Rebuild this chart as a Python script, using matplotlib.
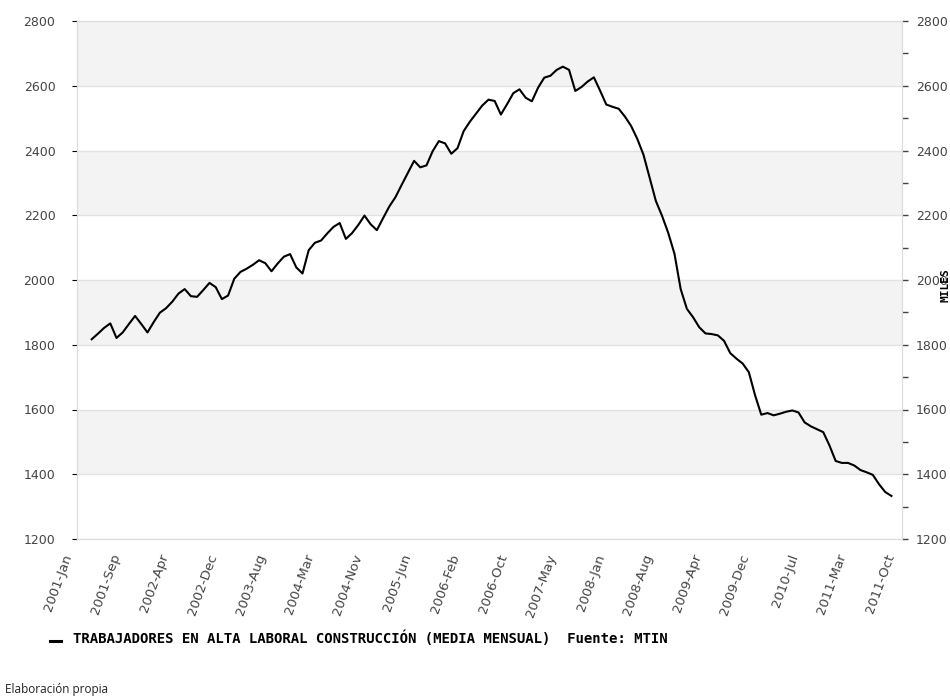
import numpy as np
import matplotlib
matplotlib.use('Agg')
from matplotlib import pyplot as plt
from matplotlib import transforms

# monthly values, 2001-Jan .. 2011-Oct (miles)
trabajadores = [
    1817, 1834, 1852, 1866, 1821, 1838, 1864, 1889, 1864, 1838,
    1870, 1899, 1913, 1933, 1958, 1972, 1950, 1948, 1969, 1991,
    1978, 1941, 1952, 2004, 2025, 2035, 2047, 2061, 2052, 2027,
    2051, 2072, 2080, 2039, 2020, 2092, 2115, 2122, 2144, 2164,
    2176, 2127, 2145, 2170, 2199, 2172, 2154, 2191, 2227, 2256,
    2294, 2331, 2368, 2348, 2354, 2398, 2429, 2422, 2390, 2407,
    2460, 2489, 2514, 2539, 2557, 2553, 2511, 2543, 2577, 2589,
    2563, 2552, 2594, 2625, 2631, 2649, 2659, 2649, 2584, 2596,
    2613, 2626, 2585, 2542, 2535, 2529, 2505, 2476, 2436, 2387,
    2316, 2244, 2198, 2145, 2081, 1972, 1911, 1885, 1854, 1835,
    1833, 1829, 1812, 1774, 1757, 1742, 1715, 1644, 1584, 1589,
    1582, 1587, 1593, 1597, 1591, 1560, 1548, 1539, 1530, 1489,
    1441, 1435, 1435, 1427, 1413, 1406, 1398, 1369, 1345, 1333,
]

tick_labels = ['2001-Jan', '2001-Sep', '2002-Apr', '2002-Dec', '2003-Aug',
               '2004-Mar', '2004-Nov', '2005-Jun', '2006-Feb', '2006-Oct',
               '2007-May', '2008-Jan', '2008-Aug', '2009-Apr', '2009-Dec',
               '2010-Jul', '2011-Mar', '2011-Oct']

y_ticks = [1200, 1400, 1600, 1800, 2000, 2200, 2400, 2600, 2800]

serie_label = u'TRABAJADORES EN ALTA LABORAL CONSTRUCCI\u00d3N (MEDIA MENSUAL)  Fuente: MTIN'
nota = u'Elaboraci\u00f3n propia'

fig = plt.figure(figsize=(9.5, 7), dpi=100)
ax = fig.add_axes([77 / 950, 1 - 539 / 700, 825 / 950, 518 / 700])

x = np.arange(len(trabajadores))

# alternating bands
for i in range(len(y_ticks) - 1):
    if i % 2 == 1:
        ax.axhspan(y_ticks[i], y_ticks[i + 1], color='#f3f3f3', lw=0, zorder=0)
for yt in y_ticks:
    ax.axhline(yt, color='#e2e2e2', lw=1, zorder=1)

ax.plot(x, trabajadores, color='black', lw=1.5, zorder=3)

ax.set_ylim(1200, 2800)
ax.set_xlim(-2.37, 130.7)
ax.set_yticks(y_ticks)
ax.tick_params(axis='y', left=False, labelsize=9, labelcolor='#444444', pad=12)

ax.set_xticks(np.linspace(-2.3, 130.4, len(tick_labels)))
ax.set_xticklabels(tick_labels)
ax.tick_params(axis='x', bottom=False, labelsize=9.5, labelcolor='#444444', pad=6)
shift = transforms.ScaledTranslation(-15 / 100., 0, fig.dpi_scale_trans)
for lab in ax.get_xticklabels():
    lab.set_rotation(70)
    lab.set_ha('right')
    lab.set_rotation_mode('anchor')
    lab.set_transform(lab.get_transform() + shift)

for s in ax.spines.values():
    s.set_color('#dddddd')

ax2 = ax.twinx()
ax2.set_ylim(1200, 2800)
ax2.set_yticks(y_ticks)
ax2.set_yticks(np.arange(1300, 2800, 200), minor=True)
ax2.tick_params(axis='y', which='major', length=4, width=1, color='#444444',
                labelsize=9, labelcolor='#444444', pad=6)
ax2.tick_params(axis='y', which='minor', length=4, width=1, color='#444444')
for s in ax2.spines.values():
    s.set_color('#dddddd')
ax2.set_ylabel('MILES', family='DejaVu Sans Mono', fontweight='bold',
               fontsize=8)
ax2.yaxis.set_label_coords(1.047, 0.49)

# legend line
fig.lines.append(plt.Line2D([50 / 950, 61 / 950], [1 - 641 / 700, 1 - 641 / 700],
                            transform=fig.transFigure, color='black', lw=2.2))
fig.text(73 / 950, 1 - 638 / 700, serie_label, family='DejaVu Sans Mono',
         fontweight='bold', fontsize=10.1, va='center', ha='left')
fig.text(5 / 950, 1 - 689 / 700, nota, family='Open Sans', fontsize=8.5,
         va='center', ha='left', color='#222222')

plt.savefig('out.png', dpi=100)
plt.close()
